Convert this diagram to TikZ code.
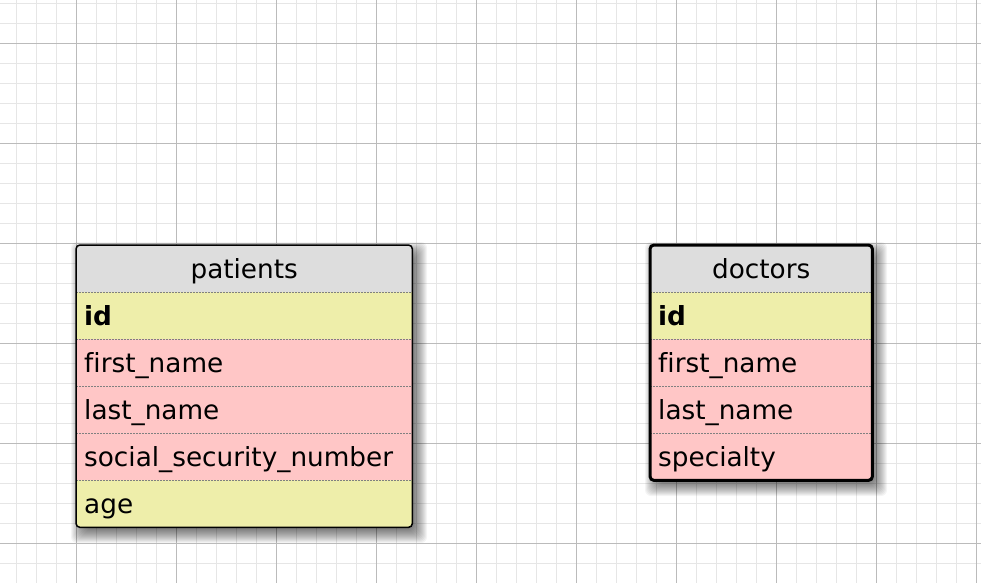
\documentclass[tikz,border=0pt]{standalone}
\usepackage{fontspec}
\setmainfont[Ligatures=NoCommon]{DejaVu Sans}
\definecolor{gridminor}{HTML}{E6E6E6}
\definecolor{gridmajor}{HTML}{BBBBBB}
\definecolor{headgray}{HTML}{DDDDDD}
\definecolor{keyyellow}{HTML}{EEEEAA}
\definecolor{fieldpink}{HTML}{FFC6C6}
\definecolor{sepgray}{HTML}{808080}
\begin{document}
\begin{tikzpicture}[x=1pt,y=-1pt,
  minorline/.style={gridminor,line width=1pt},
  majorline/.style={gridmajor,line width=1pt},
  cell/.style={anchor=north west, minimum height=47pt, inner xsep=8pt, inner ysep=0pt,
    text height=21.5pt, text depth=2.5pt, font=\fontsize{26.3}{30}\selectfont, align=left},
  headcell/.style={cell, fill=headgray, align=center},
  keycell/.style={cell, fill=keyyellow},
  fieldcell/.style={cell, fill=fieldpink},
  rowsep/.style={sepgray, line width=1pt, dash pattern=on 1.5pt off 1.5pt},
  tableframe/.style={black, rounded corners=4pt},
  shadowlayer/.style={black, opacity=0.045, rounded corners=6pt},
]
\useasboundingbox (0,0) rectangle (981,583);
\fill[white] (0,0) rectangle (981,583);

% background grid: fine lines every 20, heavy lines every 100 (on pixel centres)
\foreach \x in {16.5,36.5,...,976.5} \draw[minorline] (\x,0) -- (\x,583);
\foreach \y in {3.5,23.5,...,583} \draw[minorline] (0,\y) -- (981,\y);
\foreach \x in {76.5,176.5,...,976.5} \draw[majorline] (\x,0) -- (\x,583);
\foreach \y in {43.5,143.5,...,543.5} \draw[majorline] (0,\y) -- (981,\y);

% soft drop shadows under both tables
\foreach \e in {-5,...,11} {
  \fill[shadowlayer] ({76+6-\e},{245+8-\e}) rectangle ({412+4+\e},{527+5+\e});
  \fill[shadowlayer] ({650+6-\e},{245+8-\e}) rectangle ({872+4+\e},{480+5+\e});
}

% patients table
\begin{scope}
  \clip[rounded corners=4pt] (76,245) rectangle (412,527);
  \node[headcell, text width=320pt] (p-head) at (76,245) {patients};
  \node[keycell, text width=320pt] (p-id) at (76,292) {\bfseries id};
  \node[fieldcell, text width=320pt] (p-first) at (76,339) {first\_name};
  \node[fieldcell, text width=320pt] (p-last) at (76,386) {last\_name};
  \node[fieldcell, text width=320pt] (p-ssn) at (76,433) {social\_security\_number};
  \node[keycell, text width=320pt] (p-age) at (76,480) {age};
\end{scope}
\foreach \r in {p-id,p-first,p-last,p-ssn,p-age}
  \draw[rowsep] ([yshift=-0.5pt]\r.north west) -- ([yshift=-0.5pt]\r.north east);
\draw[tableframe, line width=1.5pt] (p-head.north west) rectangle (p-age.south east);

% doctors table
\begin{scope}
  \clip[rounded corners=4pt] (650,245) rectangle (872,480);
  \node[headcell, text width=206pt] (d-head) at (650,245) {doctors};
  \node[keycell, text width=206pt] (d-id) at (650,292) {\bfseries id};
  \node[fieldcell, text width=206pt] (d-first) at (650,339) {first\_name};
  \node[fieldcell, text width=206pt] (d-last) at (650,386) {last\_name};
  \node[fieldcell, text width=206pt] (d-spec) at (650,433) {specialty};
\end{scope}
\foreach \r in {d-id,d-first,d-last,d-spec}
  \draw[rowsep] ([yshift=-0.5pt]\r.north west) -- ([yshift=-0.5pt]\r.north east);
\draw[tableframe, line width=3pt] (d-head.north west) rectangle (d-spec.south east);
\end{tikzpicture}
\end{document}
